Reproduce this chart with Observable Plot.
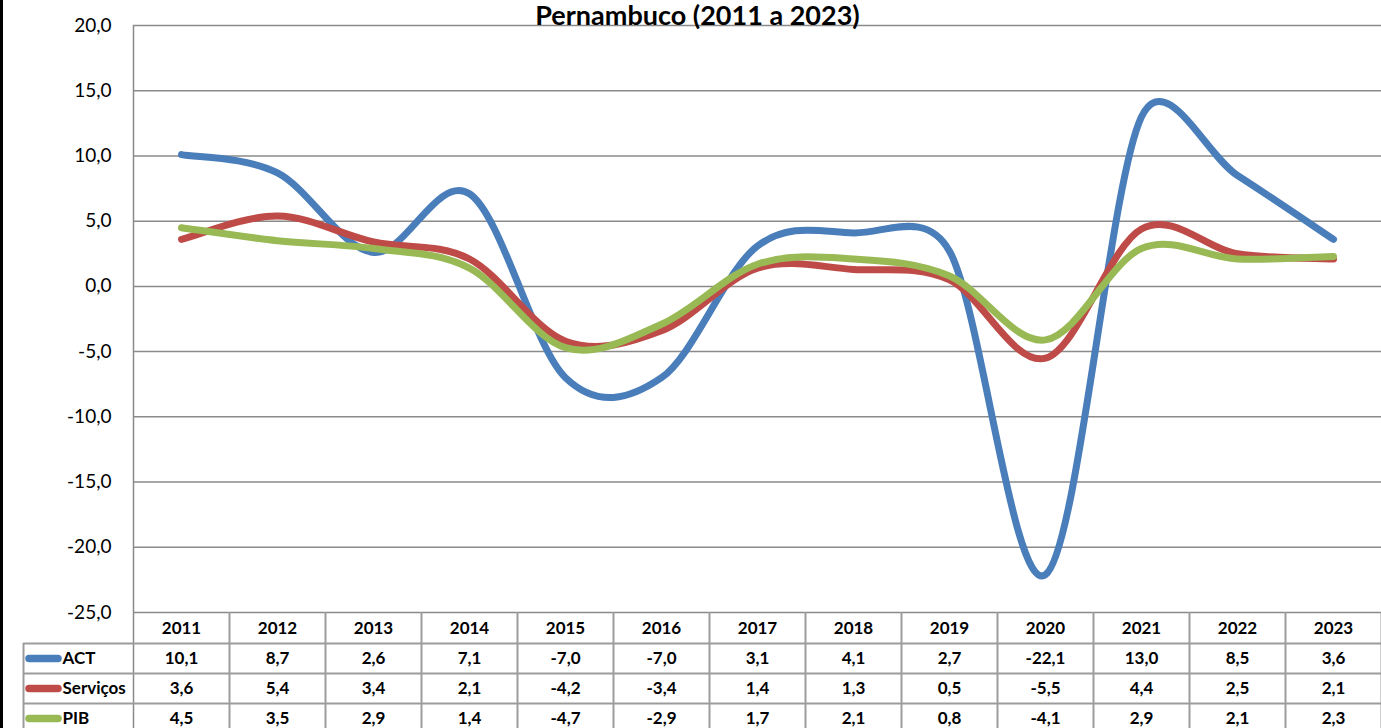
<!DOCTYPE html>
<html><head><meta charset="utf-8">
<script src="https://cdn.jsdelivr.net/npm/d3@7"></script>
<script src="https://cdn.jsdelivr.net/npm/@observablehq/plot@0.6"></script>
<style>
html,body{margin:0;padding:0;background:#fff;overflow:hidden}
#wrap{position:relative;width:1381px;height:728px}
#bar{position:absolute;left:0;top:0;width:3px;height:728px;background:#000;z-index:2}
#chart svg{display:block}
</style></head><body><div id="wrap"><div id="bar"></div><div id="chart"></div></div>
<script>
const title = "Pernambuco (2011 a 2023)";
const years = [2011, 2012, 2013, 2014, 2015, 2016, 2017, 2018, 2019, 2020, 2021, 2022, 2023];
const seriesNames = ["ACT", "Serviços", "PIB"];
const actValues = [10.1, 8.7, 2.6, 7.1, -7.0, -7.0, 3.1, 4.1, 2.7, -22.1, 13.0, 8.5, 3.6];
const servicosValues = [3.6, 5.4, 3.4, 2.1, -4.2, -3.4, 1.4, 1.3, 0.5, -5.5, 4.4, 2.5, 2.1];
const pibValues = [4.5, 3.5, 2.9, 1.4, -4.7, -2.9, 1.7, 2.1, 0.8, -4.1, 2.9, 2.1, 2.3];
const seriesColors = ["#4a7ebb", "#be4b48", "#98b954"];
const yTicks = [-25, -20, -15, -10, -5, 0, 5, 10, 15, 20];

const fmt = v => v.toFixed(1).replace(".", ",");
const series = [actValues, servicosValues, pibValues];
const long = seriesNames.flatMap((name, i) => years.map((year, j) => ({name, year, value: series[i][j], row: i})));
const edges = d3.range(years.length + 1).map(i => years[0] - 0.5 + i);
const FONT = "Lato, 'Open Sans', sans-serif";
const GRID = "#8a8a8a";
const TGRID = "#9c9c9c";

// Spreadsheet-style smoothed line: Catmull-Rom Bezier with control arms limited by segment length
function SmoothCurve(context) { this._context = context; }
SmoothCurve.prototype = {
  areaStart() { this._line = 0; },
  areaEnd() { this._line = NaN; },
  lineStart() { this._pts = []; },
  point(x, y) { this._pts.push([+x, +y]); },
  lineEnd() {
    const p = this._pts, c = this._context, n = p.length;
    if (!n) return;
    c.moveTo(p[0][0], p[0][1]);
    const K = 0.5;
    const clamp = (v, lim) => { const l = Math.hypot(v[0], v[1]); return l > lim && l > 0 ? [v[0] * lim / l, v[1] * lim / l] : v; };
    for (let i = 0; i < n - 1; i++) {
      const p0 = p[Math.max(i - 1, 0)], p1 = p[i], p2 = p[i + 1], p3 = p[Math.min(i + 2, n - 1)];
      const seg = Math.hypot(p2[0] - p1[0], p2[1] - p1[1]);
      const a = clamp([(p2[0] - p0[0]) / 6, (p2[1] - p0[1]) / 6], K * seg);
      const b = clamp([(p3[0] - p1[0]) / 6, (p3[1] - p1[1]) / 6], K * seg);
      c.bezierCurveTo(p1[0] + a[0], p1[1] + a[1], p2[0] - b[0], p2[1] - b[1], p2[0], p2[1]);
    }
  }
};
const smoothCurve = ctx => new SmoothCurve(ctx);

const marks = [];
marks.push(Plot.gridY(yTicks, {stroke: GRID, strokeOpacity: 1, strokeWidth: 1.5}));
marks.push(Plot.ruleX([edges[0]], {stroke: GRID, strokeWidth: 1.5, insetBottom: -116}));
marks.push(Plot.ruleX(edges.slice(1), {stroke: TGRID, strokeWidth: 2, insetTop: 587, insetBottom: -116}));
marks.push(Plot.ruleX([edges[0]], {dx: -110, stroke: TGRID, strokeWidth: 2, insetTop: 618, insetBottom: -116}));
[31, 61, 91].forEach(off => marks.push(Plot.ruleY([-25], {dy: off, insetLeft: -110, stroke: TGRID, strokeWidth: 2})));
marks.push(Plot.text(years, {x: d => d, frameAnchor: "bottom", lineAnchor: "middle", dy: 16, text: d => String(d), fontWeight: "bold", fontSize: 17, fill: "#000"}));
seriesNames.forEach((name, i) => {
  const off = 46 + 30 * i;
  marks.push(Plot.text(long.filter(d => d.row === i), {x: "year", frameAnchor: "bottom", lineAnchor: "middle", dy: off, text: d => fmt(d.value), fontWeight: "bold", fontSize: 17, fill: "#000"}));
  marks.push(Plot.ruleY([-25], {x1: () => edges[0], x2: () => edges[0], insetLeft: -104, insetRight: 75, dy: off, stroke: seriesColors[i], strokeWidth: 7.5, strokeLinecap: "round"}));
  marks.push(Plot.text([name], {x: () => edges[0], frameAnchor: "bottom", lineAnchor: "middle", dx: -71, dy: off, textAnchor: "start", fontWeight: "bold", fontSize: 17, fill: "#000"}));
});
marks.push(Plot.line(long, {x: "year", y: "value", z: "name", stroke: "name", curve: smoothCurve, strokeWidth: 7, strokeLinecap: "round", strokeLinejoin: "round"}));
marks.push(Plot.axisY(yTicks, {tickSize: 0, tickPadding: 22, tickFormat: fmt, fontSize: 19, fill: "#000", label: null}));
marks.push(Plot.text([title], {frameAnchor: "top", dx: -60, dy: -20, lineAnchor: "top", fontSize: 27, fontWeight: "bold", fill: "#000"}));

const chart = Plot.plot({
  width: 1381,
  height: 728,
  marginLeft: 133,
  marginRight: 0,
  marginTop: 25,
  marginBottom: 116,
  style: {fontFamily: FONT, background: "#fff", color: "#000", overflow: "visible"},
  x: {domain: [edges[0], edges[edges.length - 1]], axis: null},
  y: {domain: [-25, 20], axis: null},
  color: {domain: seriesNames, range: seriesColors},
  marks
});
document.getElementById("chart").appendChild(chart);
</script></body></html>
